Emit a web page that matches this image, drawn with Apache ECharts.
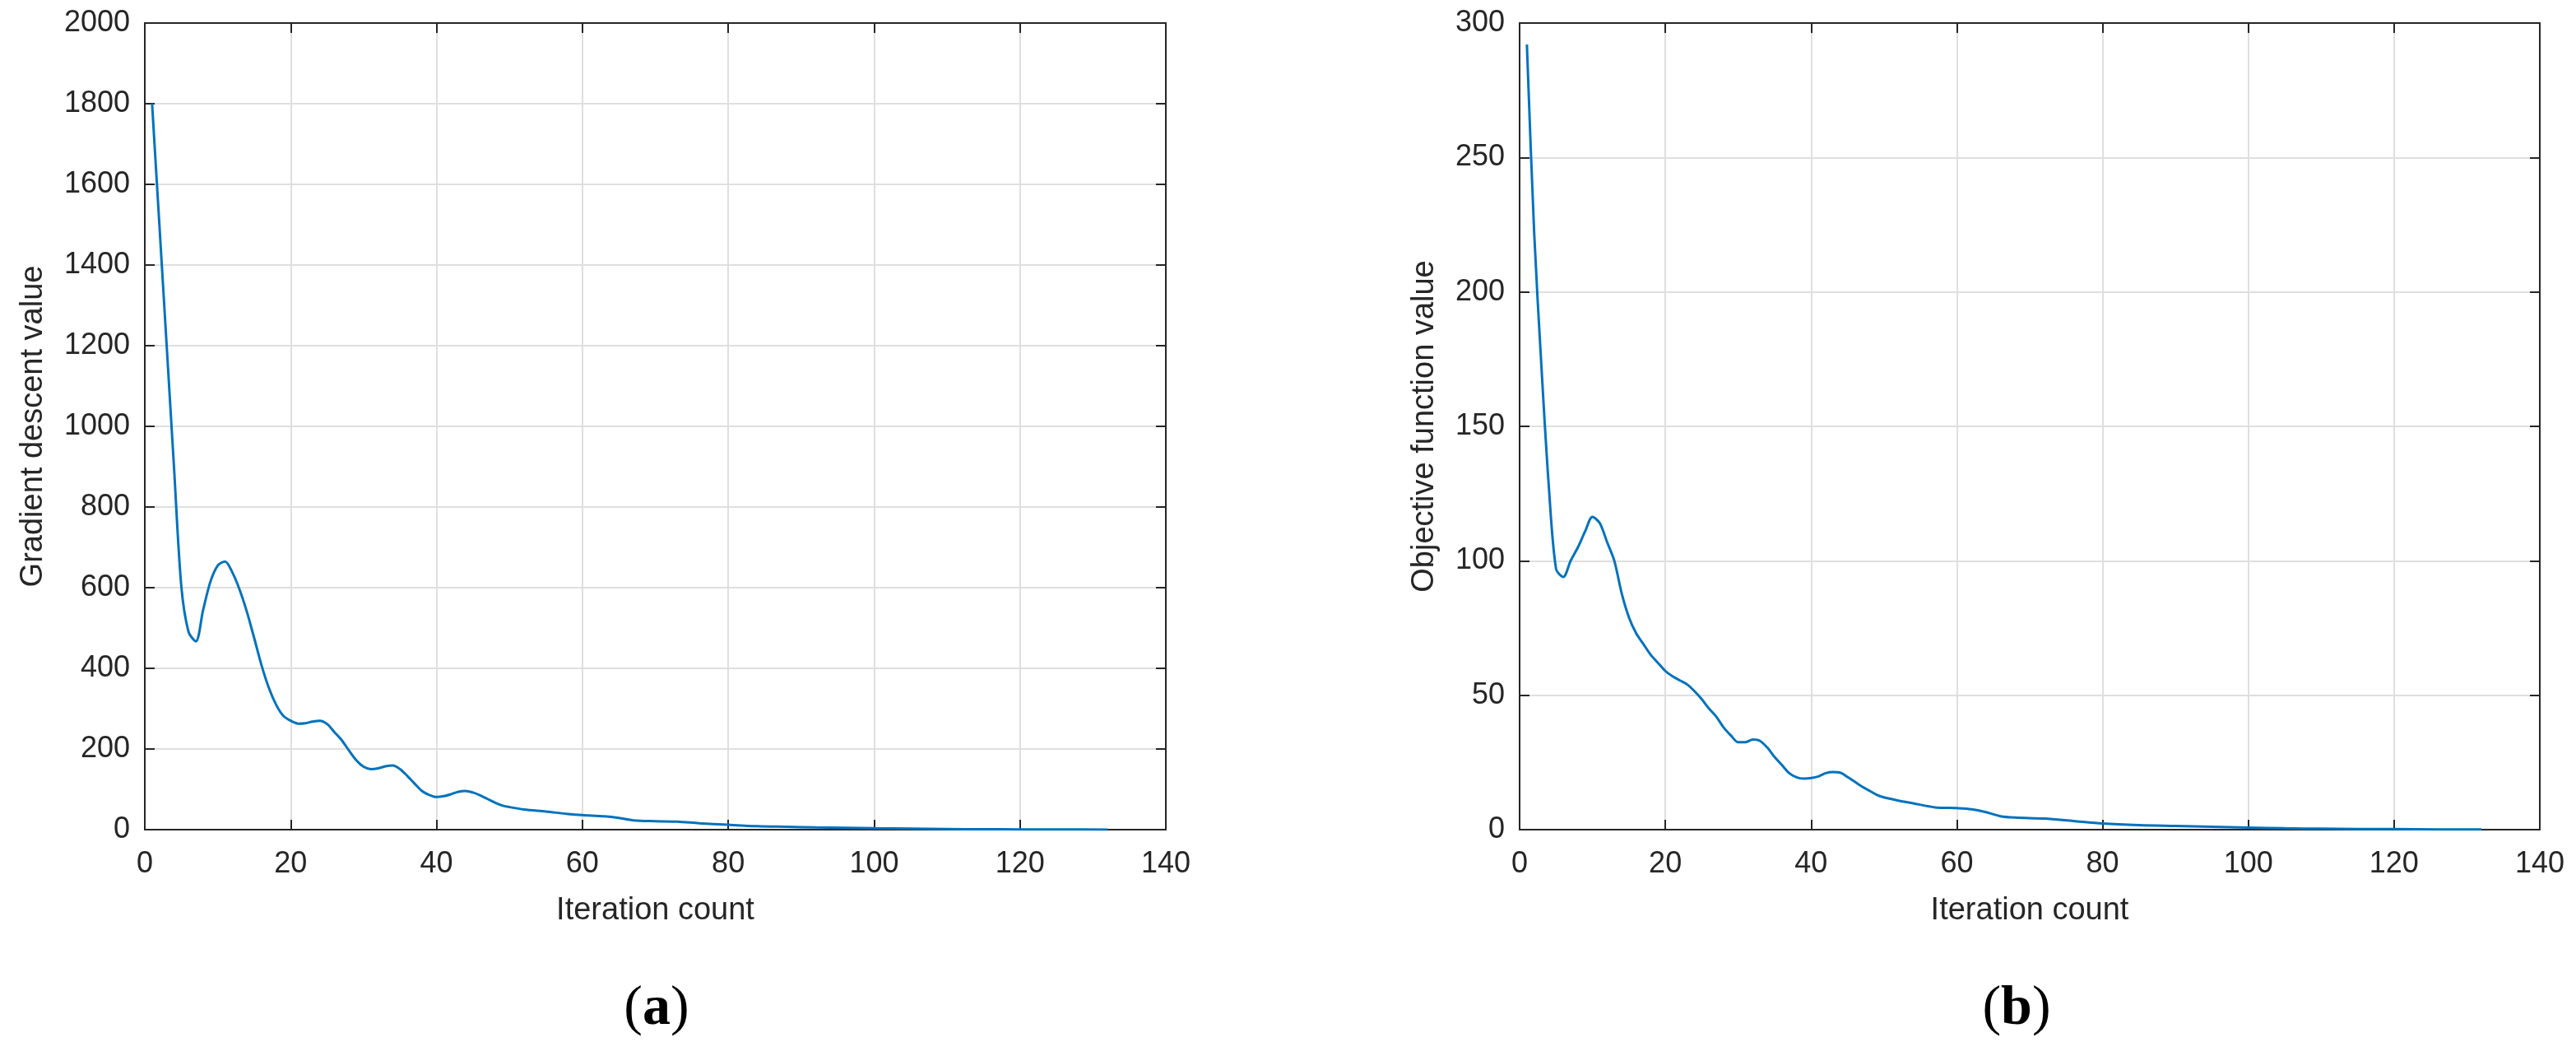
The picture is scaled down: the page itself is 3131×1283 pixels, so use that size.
<!DOCTYPE html>
<html>
<head>
<meta charset="utf-8">
<title>Gradient descent / objective function</title>
<script src="https://cdn.jsdelivr.net/npm/echarts@6/dist/echarts.min.js"></script>
<style>
    html, body { margin: 0; padding: 0; background: #fff; }
    #main { width: 3131px; height: 1283px; }
</style>
</head>
<body>
<div id="main"></div>
<script>
// (a) gradient descent value per iteration
var iterA = [1, 2, 3, 4, 5, 6, 7, 8, 9, 10, 11, 12, 13, 14, 15, 16, 17, 18, 19, 20,
    21, 22, 23, 24, 25, 26, 27, 28, 29, 30, 31, 32, 33, 34, 35, 36, 37, 38, 39, 40,
    41, 42, 43, 44, 45, 46, 47, 48, 49, 50, 52, 55, 58, 60, 63, 65, 67, 70, 73, 76,
    80, 84, 88, 92, 96, 100, 105, 110, 115, 120, 126, 132];
var gradValues = [1800, 1500, 1200, 900, 605, 490, 467, 545, 615, 655, 665, 638, 595, 540, 475, 408, 352, 310, 282, 270,
    263, 264, 268, 270, 262, 242, 222, 196, 172, 156, 150, 152, 157, 159, 150, 133, 114, 96, 86, 81,
    83, 88, 94, 96, 92, 85, 76, 67, 60, 56, 50, 45, 39, 36, 33, 29, 23, 21, 20, 16,
    12, 8.5, 7, 5.5, 4.5, 3.4, 2.5, 1.6, 1.0, 0.6, 0.4, 0.2];

// (b) objective function value per iteration
var iterB = [1, 2, 3, 4, 5, 6, 7, 8, 9, 10, 11, 12, 13, 14, 15, 16, 17, 18, 19, 20,
    21, 22, 23, 24, 25, 26, 27, 28, 29, 30, 31, 32, 33, 34, 35, 36, 37, 38, 39, 40,
    41, 42, 43, 44, 45, 46, 47, 48, 49, 50, 52, 54, 57, 60, 62, 64, 66, 68, 72, 76,
    80, 85, 90, 95, 100, 105, 110, 115, 120, 126, 132];
var objValues = [292, 222, 172, 128, 97, 94, 100, 105, 111, 116.3, 114, 107, 100, 88, 79, 73, 69, 65, 62, 59,
    57, 55.5, 54, 51.5, 48.5, 45, 42, 38, 35, 32.5, 32.5, 33.5, 33, 30.5, 27, 24, 21, 19.5, 19, 19.2,
    19.8, 21, 21.4, 21.2, 19.6, 17.8, 16, 14.5, 13, 12, 10.8, 9.8, 8.3, 8, 7.6, 6.5, 5, 4.5, 4.1, 3.2,
    2.3, 1.7, 1.4, 1.1, 0.8, 0.5, 0.35, 0.25, 0.2, 0.1, 0.05];

// axis ticks
var xTicks = [0, 20, 40, 60, 80, 100, 120, 140];
var yTicksA = [0, 200, 400, 600, 800, 1000, 1200, 1400, 1600, 1800, 2000];
var yTicksB = [0, 50, 100, 150, 200, 250, 300];

var axisColor = '#262626';
var gridColor = '#dfdfdf';
var lineColor = '#0072BD';
var font = '"Liberation Sans", Arial, sans-serif';
var serif = '"Liberation Serif", "DejaVu Serif", serif';

function pairs(xs, ys) {
    return xs.map(function (x, i) { return [x, ys[i]]; });
}

// main axis with labels + grid lines
function mainAxis(gridIndex, position, ticks, name, nameGap) {
    return {
        type: 'value',
        gridIndex: gridIndex,
        position: position,
        min: ticks[0],
        max: ticks[ticks.length - 1],
        interval: ticks[1] - ticks[0],
        name: name,
        nameLocation: 'middle',
        nameGap: nameGap,
        nameTextStyle: { color: axisColor, fontSize: 38, fontFamily: font },
        axisLine: { show: true, onZero: false, lineStyle: { color: axisColor, width: 2 } },
        axisTick: { show: true, inside: true, length: 12, lineStyle: { color: axisColor, width: 2 } },
        axisLabel: {
            color: axisColor, fontSize: 36, fontFamily: font,
            margin: position === 'bottom' ? 24 : 18,
            formatter: function (v) { return String(v); }
        },
        splitLine: { show: true, lineStyle: { color: gridColor, width: 2 } }
    };
}

// mirror axis: closes the box, ticks only
function boxAxis(gridIndex, position, ticks) {
    return {
        type: 'value',
        gridIndex: gridIndex,
        position: position,
        min: ticks[0],
        max: ticks[ticks.length - 1],
        interval: ticks[1] - ticks[0],
        axisLine: { show: true, onZero: false, lineStyle: { color: axisColor, width: 2 } },
        axisTick: { show: true, inside: true, length: 12, lineStyle: { color: axisColor, width: 2 } },
        axisLabel: { show: false },
        splitLine: { show: false }
    };
}

function caption(letter, cx) {
    return {
        type: 'text', x: cx, y: 1226,
        style: {
            text: '{p|(}{b|' + letter + '}{p|)}',
            align: 'center', verticalAlign: 'middle',
            rich: {
                p: { fontSize: 68, fontFamily: serif, fill: '#000' },
                b: { fontSize: 68, fontWeight: 'bold', fontFamily: serif, fill: '#000' }
            }
        }
    };
}

var chart = echarts.init(document.getElementById('main'), null, { renderer: 'canvas' });

var option = {
    backgroundColor: '#ffffff',
    animation: false,
    grid: [
        { left: 176, top: 28, width: 1241, height: 980 },
        { left: 1847, top: 28, width: 1240, height: 980 }
    ],
    xAxis: [
        mainAxis(0, 'bottom', xTicks, 'Iteration count', 80),
        boxAxis(0, 'top', xTicks),
        mainAxis(1, 'bottom', xTicks, 'Iteration count', 80),
        boxAxis(1, 'top', xTicks)
    ],
    yAxis: [
        mainAxis(0, 'left', yTicksA, 'Gradient descent value', 116),
        boxAxis(0, 'right', yTicksA),
        mainAxis(1, 'left', yTicksB, 'Objective function value', 96),
        boxAxis(1, 'right', yTicksB)
    ],
    series: [
        {
            name: 'Gradient descent value',
            type: 'line',
            xAxisIndex: 0,
            yAxisIndex: 0,
            showSymbol: false,
            smooth: 0.3,
            lineStyle: { color: lineColor, width: 3 },
            data: pairs(iterA, gradValues)
        },
        {
            name: 'Objective function value',
            type: 'line',
            xAxisIndex: 2,
            yAxisIndex: 2,
            showSymbol: false,
            smooth: 0.3,
            lineStyle: { color: lineColor, width: 3 },
            data: pairs(iterB, objValues)
        }
    ],
    graphic: [
        caption('a', 798),
        caption('b', 2451)
    ]
};

option && chart.setOption(option);
</script>
</body>
</html>
